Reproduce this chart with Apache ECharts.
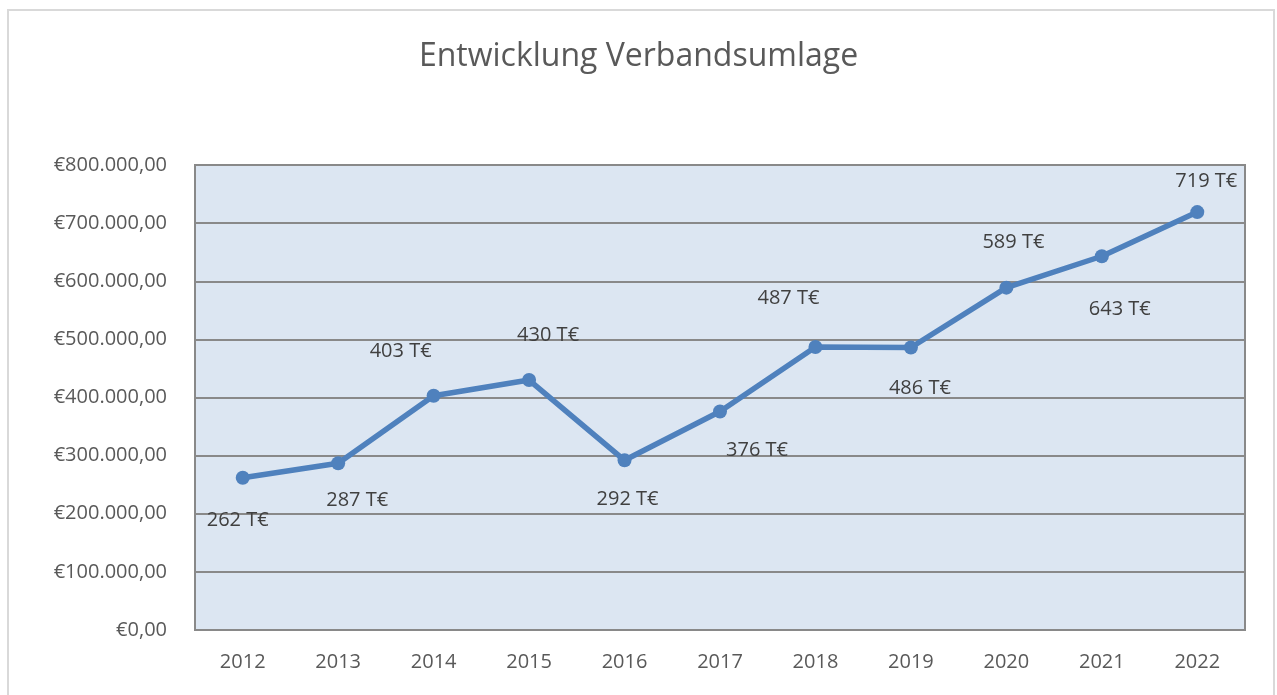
<!DOCTYPE html>
<html>
<head>
<meta charset="utf-8">
<script src="https://cdn.jsdelivr.net/npm/echarts@6/dist/echarts.min.js"></script>
<style>
  html, body { margin: 0; padding: 0; background: #fff; }
  #chart { width: 1277px; height: 695px; }
</style>
</head>
<body>
<div id="chart"></div>
<script>
// Jahre und Verbandsumlage (in Euro)
var years = ['2012', '2013', '2014', '2015', '2016', '2017', '2018', '2019', '2020', '2021', '2022'];
var umlage = [262000, 287000, 403000, 430000, 292000, 376000, 487000, 486000, 589000, 643000, 719000];
var labelTexts = ['262 T€', '287 T€', '403 T€', '430 T€', '292 T€', '376 T€', '487 T€', '486 T€', '589 T€', '643 T€', '719 T€'];
// Label-Verschiebung wie im Original (manuell platziert)
var labelOffsets = [[-5, 43], [19, 37], [-33, -44], [19, -45], [3, 39], [37, 39], [-27, -49], [9, 41], [7, -45], [18, 53], [9, -31]];

var fontFam = '"Open Sans", "Noto Sans", sans-serif';

var seriesData = umlage.map(function (v, i) {
  return {
    value: v,
    label: { formatter: labelTexts[i], offset: labelOffsets[i] }
  };
});

var chart = echarts.init(document.getElementById('chart'));
chart.setOption({
  animation: false,
  graphic: [{
    type: 'rect',
    z: -10,
    shape: { x: 8, y: 10, width: 1266, height: 700 },
    style: { fill: 'none', stroke: '#d9d9d9', lineWidth: 2 }
  }],
  title: {
    text: 'Entwicklung Verbandsumlage',
    left: 'center',
    top: 36,
    textStyle: { fontFamily: fontFam, fontSize: 32, fontWeight: 'normal', color: '#595959' }
  },
  grid: {
    left: 195, right: 32, top: 165, bottom: 65,
    show: true,
    backgroundColor: '#dce6f2',
    borderColor: '#898989',
    borderWidth: 2
  },
  xAxis: {
    type: 'category',
    data: years,
    boundaryGap: true,
    axisLine: { show: false },
    axisTick: { show: false },
    axisLabel: { fontFamily: fontFam, fontSize: 20, color: '#595959', margin: 22 }
  },
  yAxis: {
    type: 'value',
    min: 0,
    max: 800000,
    interval: 100000,
    axisLine: { show: false },
    axisTick: { show: false },
    splitLine: { lineStyle: { color: '#898989', width: 2 } },
    axisLabel: {
      fontFamily: fontFam, fontSize: 20, color: '#595959', margin: 28,
      formatter: function (v) {
        var s = String(v).replace(/\B(?=(\d{3})+(?!\d))/g, '.');
        return '€' + s + ',00';
      }
    }
  },
  series: [{
    type: 'line',
    data: seriesData,
    symbol: 'circle',
    symbolSize: 14,
    lineStyle: { color: '#4f81bd', width: 5.5 },
    itemStyle: { color: '#4f81bd' },
    label: {
      show: true,
      position: 'inside',
      fontFamily: fontFam,
      fontSize: 20,
      color: '#404040'
    }
  }]
});
</script>
</body>
</html>
